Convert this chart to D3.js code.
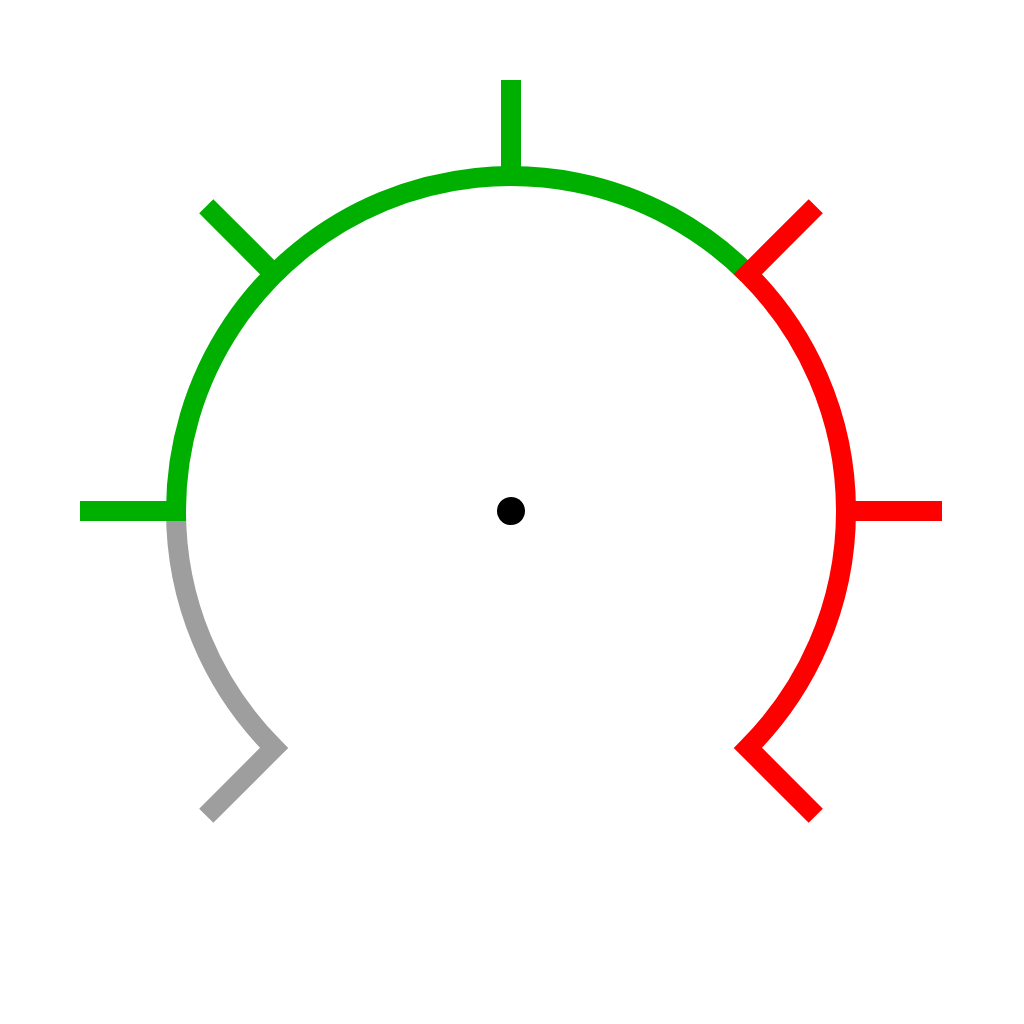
<!DOCTYPE html>
<html>
<head>
<meta charset="utf-8">
<script src="https://cdn.jsdelivr.net/npm/d3@7"></script>
<style>
  html, body { margin: 0; padding: 0; background: #fff; }
  svg { display: block; }
</style>
</head>
<body>
<svg id="chart" width="1024" height="1024"></svg>
<script>
// Gauge scale values
const tickValues = [0, 1, 2, 3, 4, 5, 6];
const bandStarts = [0, 1, 4];
const bandEnds = [1, 4, 6];
const bandColors = ["#9e9e9e", "#00b000", "#ff0000"];

const W = 1024, H = 1024;
const cx = 511, cy = 511;
const R = 335, Rout = 431;
const SW = 20;

const angle = d3.scaleLinear().domain([0, 6]).range([-135 * Math.PI / 180, 135 * Math.PI / 180]);
const pt = (v, r) => [cx + r * Math.sin(angle(v)), cy - r * Math.cos(angle(v))];

const svg = d3.select("#chart");

function bandIndex(v) {
  for (let i = 0; i < bandStarts.length; i++) {
    if (v >= bandStarts[i] && v < bandEnds[i]) return i;
  }
  return bandStarts.length - 1;
}

// band paths (tick at start joined with arc; last band also joined with end tick)
bandStarts.forEach((s, i) => {
  const e = bandEnds[i];
  const p = d3.path();
  const o = pt(s, Rout), a = pt(s, R);
  p.moveTo(o[0], o[1]);
  p.lineTo(a[0], a[1]);
  p.arc(cx, cy, R, angle(s) - Math.PI / 2, angle(e) - Math.PI / 2, false);
  if (i === bandStarts.length - 1) {
    const oe = pt(e, Rout);
    p.lineTo(oe[0], oe[1]);
  }
  svg.append("path")
    .attr("d", p.toString())
    .attr("fill", "none")
    .attr("stroke", bandColors[i])
    .attr("stroke-width", SW)
    .attr("stroke-linejoin", "miter")
    .attr("stroke-linecap", "butt");
});

// remaining ticks
const joined = new Set([...bandStarts, bandEnds[bandEnds.length - 1]]);
svg.selectAll("line.tick")
  .data(tickValues.filter(v => !joined.has(v)))
  .join("line")
  .attr("class", "tick")
  .attr("x1", d => pt(d, R)[0])
  .attr("y1", d => pt(d, R)[1])
  .attr("x2", d => pt(d, Rout)[0])
  .attr("y2", d => pt(d, Rout)[1])
  .attr("stroke", d => bandColors[bandIndex(d)])
  .attr("stroke-width", SW)
  .attr("stroke-linecap", "butt");

// center dot
svg.append("circle")
  .attr("cx", cx).attr("cy", cy).attr("r", 14)
  .attr("fill", "#000");
</script>
</body>
</html>
